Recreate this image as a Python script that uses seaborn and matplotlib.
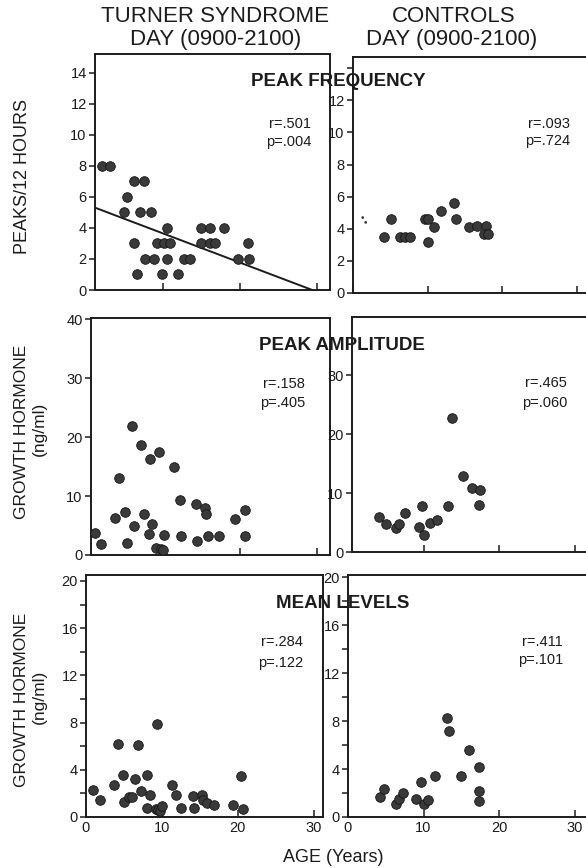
import numpy as np
import pandas as pd
import matplotlib
matplotlib.use("Agg")
import matplotlib.pyplot as plt
import seaborn as sns

# ---------------- data ----------------
# Peak frequency (peaks / 12 h) vs age
tl_age = [2.1, 3.2, 6.2, 7.5, 5.3, 5.0, 7.1, 8.5, 6.2, 6.6, 7.7, 8.9, 9.2, 10.2, 10.9,
          10.5, 10.5, 9.9, 12.0, 12.8, 13.5, 15.0, 15.0, 16.1, 16.1, 16.8, 18.0, 19.7, 21.2, 21.0]
tl_val = [8, 8, 7, 7, 6, 5, 5, 5, 3, 1, 2, 2, 3, 3, 3,
          4, 2, 1, 1, 2, 2, 3, 4, 4, 3, 3, 4, 2, 2, 3]
tl_fit_x = [0.0, 29.4]
tl_fit_y = [5.53, 0.0]

tr_age = [4.1, 5.1, 6.3, 7.0, 7.6, 9.6, 10.1, 10.0, 10.9, 11.8, 13.5, 13.8, 15.5, 16.6, 17.8, 17.5, 18.1]
tr_val = [3.5, 4.6, 3.5, 3.5, 3.5, 4.6, 4.6, 3.2, 4.1, 5.1, 5.6, 4.6, 4.1, 4.2, 4.2, 3.7, 3.7]
tr_spec_age = [1.3, 1.7]
tr_spec_val = [4.7, 4.4]

# Peak amplitude (ng/ml) vs age
ml_age = [1.2, 2.0, 3.8, 4.3, 5.1, 5.3, 6.0, 6.3, 7.2, 7.6, 8.2, 8.3, 8.6, 9.1, 9.7, 10.0,
          9.5, 10.1, 11.4, 12.2, 12.3, 14.3, 14.4, 15.4, 15.6, 15.8, 17.3, 19.4, 20.7, 20.7]
ml_val = [3.7, 1.8, 6.2, 13.0, 7.3, 2.1, 21.9, 4.9, 18.7, 7.0, 3.5, 16.2, 5.2, 1.2, 1.0, 0.9,
          17.5, 3.4, 14.9, 9.3, 3.2, 8.6, 2.3, 7.9, 6.9, 3.2, 3.2, 6.1, 7.6, 3.2]

mr_age = [4.1, 5.0, 6.4, 6.7, 7.5, 9.4, 9.8, 10.1, 10.8, 11.8, 13.2, 13.8, 15.2, 16.4, 17.5, 17.4]
mr_val = [5.9, 4.8, 4.0, 4.8, 6.7, 4.2, 7.8, 2.9, 5.0, 5.5, 7.8, 22.8, 12.9, 10.9, 10.6, 7.9]

# Mean levels (ng/ml) vs age
bl_age = [0.9, 1.8, 3.7, 4.2, 4.9, 5.0, 5.7, 6.0, 6.5, 6.9, 7.3, 8.0, 8.0, 8.4, 9.4, 9.2,
          9.5, 9.7, 10.0, 11.3, 11.9, 12.5, 14.1, 14.2, 15.3, 15.4, 15.9, 16.9, 19.3, 20.4, 20.7]
bl_val = [2.3, 1.4, 2.7, 6.2, 3.6, 1.3, 1.7, 1.7, 3.2, 6.1, 2.2, 3.6, 0.8, 1.9, 7.9, 0.7,
          0.6, 0.5, 0.9, 2.7, 1.9, 0.8, 1.8, 0.8, 1.9, 1.4, 1.2, 1.0, 1.0, 3.5, 0.7]

br_age = [4.2, 4.7, 6.4, 6.8, 7.3, 9.0, 9.6, 10.0, 10.6, 11.5, 13.1, 13.4, 15.0, 16.0, 17.3, 17.3, 17.4]
br_val = [1.7, 2.3, 1.1, 1.5, 2.0, 1.5, 2.9, 1.1, 1.4, 3.4, 8.3, 7.2, 3.4, 5.6, 4.2, 2.2, 1.3]

stats = {
    "tl": ("r=.501", "p=.004"), "tr": ("r=.093", "p=.724"),
    "ml": ("r=.158", "p=.405"), "mr": ("r=.465", "p=.060"),
    "bl": ("r=.284", "p=.122"), "br": ("r=.411", "p=.101"),
}
col_title_1 = ["TURNER SYNDROME", "DAY (0900-2100)"]
col_title_2 = ["CONTROLS", "DAY (0900-2100)"]
row_titles = ["PEAK FREQUENCY", "PEAK AMPLITUDE", "MEAN LEVELS"]
y_label_top = "PEAKS/12 HOURS"
y_label_gh = ["GROWTH HORMONE", "(ng/ml)"]
x_label = "AGE (Years)"

# ---------------- style ----------------
sns.set_style("ticks")
plt.rcParams['font.family'] = ['Liberation Sans', 'DejaVu Sans']
NARROW = ['Liberation Sans Narrow', 'Liberation Sans', 'DejaVu Sans']
INK = '#1c1c1c'
DOT = '#3a3a3a'

W, H = 586, 868
fig = plt.figure(figsize=(W / 100, H / 100), dpi=100)
fig.patch.set_facecolor('white')


def panel(l, r, t, b):
    return fig.add_axes([l / W, 1 - b / H, (r - l) / W, (b - t) / H])


def ftext(x, y, s, **kw):
    fig.text(x / W, 1 - y / H, s, **kw)


def style(ax, xlim, ylim, yticks, ylabels, xlabels_on, yminor=None):
    ax.set_xlim(*xlim)
    ax.set_ylim(*ylim)
    xt = [v for v in [0, 10, 20, 30] if xlim[0] <= v <= xlim[1]]
    ax.set_xticks(xt)
    if xlabels_on:
        ax.set_xticklabels([str(v) for v in xt])
    else:
        ax.set_xticklabels([''] * len(xt))
    ax.set_yticks(yticks)
    ax.set_yticklabels(ylabels)
    if yminor is not None:
        ax.set_yticks(yminor, minor=True)
    ax.tick_params(axis='x', which='both', direction='in', length=5, width=1.1,
                   colors=INK, labelsize=10.5, pad=3)
    ax.tick_params(axis='y', which='both', direction='out', length=4, width=1.1,
                   colors=INK, labelsize=10.5, pad=2)
    for lab in ax.get_xticklabels() + ax.get_yticklabels():
        lab.set_family(NARROW)
    for sp in ax.spines.values():
        sp.set_visible(True)
        sp.set_linewidth(1.4)
        sp.set_color(INK)
    ax.set_xlabel('')
    ax.set_ylabel('')
    ax.set_facecolor('white')


def dots(ax, x, y):
    sns.scatterplot(x=x, y=y, ax=ax, s=48, color=DOT, edgecolor='#151515',
                    linewidth=0.6, zorder=3, clip_on=False, legend=False)


# ---- top row: peak frequency ----
ax = panel(95, 330, 54, 290)
dots(ax, tl_age, tl_val)
sns.lineplot(x=tl_fit_x, y=tl_fit_y, ax=ax, color=INK, linewidth=1.4)
style(ax, (1.2, 31.7), (0, 15.2), list(range(0, 15, 2)),
      [str(v) for v in range(0, 15, 2)], False)

ax = panel(353, 620, 57, 293)
dots(ax, tr_age, tr_val)
sns.scatterplot(x=tr_spec_age, y=tr_spec_val, ax=ax, s=4, color=DOT,
                edgecolor='none', legend=False)
style(ax, (0, 35.8), (0, 14.7), list(range(0, 15, 2)),
      [str(v) for v in range(0, 13, 2)] + [''], False)

# ---- middle row: peak amplitude ----
ax = panel(91, 330, 318, 555)
dots(ax, ml_age, ml_val)
style(ax, (0.65, 31.7), (0, 40.2), [0, 10, 20, 30, 40],
      ['0', '10', '20', '30', '40'], False)

ax = panel(352, 620, 317, 552)
dots(ax, mr_age, mr_val)
style(ax, (0.53, 36.0), (0, 39.9), [0, 10, 20, 30], ['0', '10', '20', '30'], False)

# ---- bottom row: mean levels ----
ax = panel(86, 323, 575, 817)
dots(ax, bl_age, bl_val)
style(ax, (0, 31.2), (0, 20.5), [0, 4, 8, 12, 16, 20],
      ['0', '4', '8', '12', '16', '20'], True, yminor=[2, 6, 10, 14, 18])

ax = panel(348, 620, 575, 817)
dots(ax, br_age, br_val)
style(ax, (0, 36.0), (0, 20.2), [0, 4, 8, 12, 16, 20],
      ['0', '4', '8', '12', '16', '20'], True, yminor=[2, 6, 10, 14, 18])

# ---- texts ----
ftext(215, 17, col_title_1[0], ha='center', va='center', fontsize=16, color=INK)
ftext(216, 40, col_title_1[1], ha='center', va='center', fontsize=16, color=INK)
ftext(454, 17, col_title_2[0], ha='center', va='center', fontsize=16, color=INK)
ftext(452, 40, col_title_2[1], ha='center', va='center', fontsize=16, color=INK)

for (ttl, yy, xx) in zip(row_titles, [82, 345, 604], [338, 342, 343]):
    ftext(xx, yy, ttl, ha='center', va='center', fontsize=13.5, fontweight='bold',
          color=INK, zorder=10)

ftext(23, 176, y_label_top, ha='center', va='center', rotation=90, fontsize=13,
      color=INK)
for yc in [432, 700]:
    ftext(22, yc, y_label_gh[0], ha='center', va='center', rotation=90,
          fontsize=12.5, color=INK)
    ftext(39, yc - 3, y_label_gh[1], ha='center', va='center', rotation=90,
          fontsize=12.5, color=INK)
ftext(333, 857, x_label, ha='center', va='center', fontsize=13, color=INK)

ann = {"tl": (311, 124, 142), "tr": (570, 124, 141), "ml": (305, 384, 403),
       "mr": (567, 383, 403), "bl": (303, 642, 663), "br": (563, 642, 660)}
for k, (xr, y1, y2) in ann.items():
    r_s, p_s = stats[k]
    ftext(xr, y1, r_s, ha='right', va='center', fontsize=10.5, color=INK)
    ftext(xr, y2, p_s, ha='right', va='center', fontsize=10.5, color=INK)

fig.savefig("out.png", dpi=100, facecolor='white')
